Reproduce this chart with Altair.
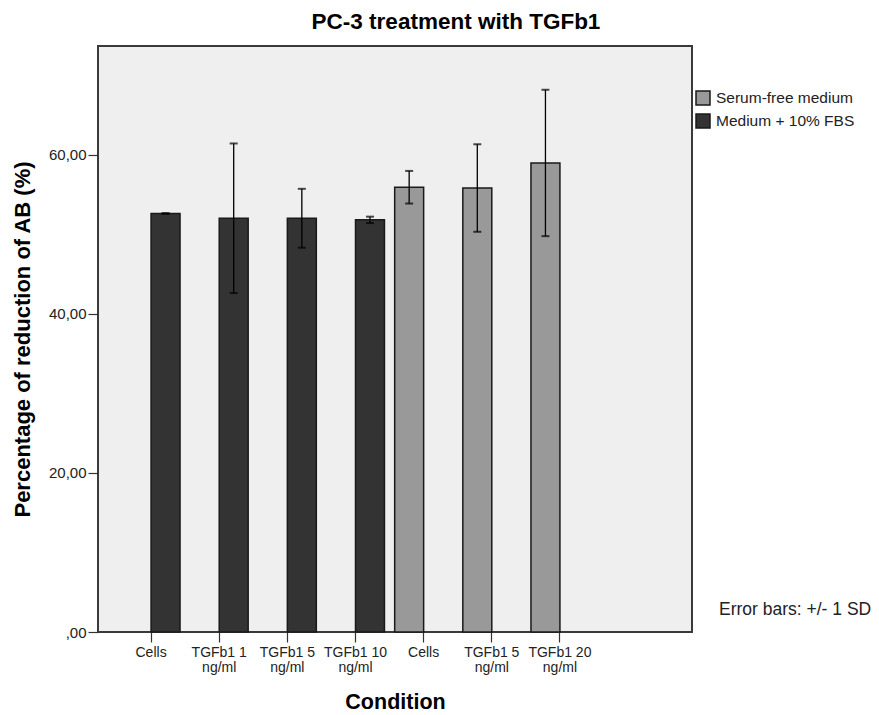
import altair as alt
import pandas as pd

# ---- data ----
categories = ["Cells", "TGFb1 1|ng/ml", "TGFb1 5|ng/ml", "TGFb1 10|ng/ml",
              "Cells ", "TGFb1 5|ng/ml ", "TGFb1 20|ng/ml"]
series = ["Medium + 10% FBS", "Medium + 10% FBS", "Medium + 10% FBS", "Medium + 10% FBS",
          "Serum-free medium", "Serum-free medium", "Serum-free medium"]
means = [52.6, 52.0, 52.0, 51.8, 55.9, 55.8, 58.95]
sds = [0.05, 9.4, 3.7, 0.4, 2.05, 5.5, 9.2]

series_order = ["Serum-free medium", "Medium + 10% FBS"]
series_colors = ["#999999", "#333333"]
y_ticks = [0, 20, 40, 60]
note = ["Error bars: +/- 1 SD"]

df = pd.DataFrame({
    "cond": categories,
    "series": series,
    "mean": means,
    "sd": sds,
})
df["lo"] = df["mean"] - df["sd"]
df["hi"] = df["mean"] + df["sd"]

FONT = "Liberation Sans"
W, H = 594, 586

xscale = alt.Scale(domain=categories, range=[19, 496], paddingInner=0.15, paddingOuter=0.075)
xoff = alt.XOffset("series:N", scale=alt.Scale(domain=series_order, paddingInner=0, paddingOuter=0))
yscale = alt.Scale(domain=[0, 73.65], nice=False, zero=True)

x_enc = alt.X("cond:N", scale=xscale, sort=categories, title="Condition",
              axis=alt.Axis(labelExpr="split(datum.label, '|')", labelAngle=0,
                            labelFontSize=14, labelFont=FONT, labelColor="#222222",
                            labelLineHeight=15, labelPadding=3,
                            tickSize=10, tickColor="#333333", tickWidth=1.2,
                            domain=False, grid=False,
                            titleFont=FONT, titleFontSize=21.5, titleFontWeight="bold",
                            titleX=W / 2, titleAlign="center",
                            titlePadding=17, titleColor="#000000"))
y_enc = alt.Y("mean:Q", scale=yscale, title="Percentage of reduction of AB (%)",
              axis=alt.Axis(values=y_ticks,
                            labelExpr="datum.value == 0 ? ',00' : replace(format(datum.value, '.2f'), '.', ',')",
                            labelFontSize=15, labelFont=FONT, labelColor="#222222",
                            tickSize=10, tickColor="#333333", tickWidth=1.2,
                            labelPadding=2, domain=False, grid=False,
                            titleFont=FONT, titleFontSize=22, titleFontWeight="bold",
                            titlePadding=14, titleColor="#000000"))

bars = alt.Chart(df).mark_bar(stroke="#1a1a1a", strokeWidth=1.5).encode(
    x=x_enc,
    xOffset=xoff,
    y=y_enc,
    color=alt.Color("series:N", scale=alt.Scale(domain=series_order, range=series_colors),
                    legend=alt.Legend(title=None, orient="none", legendX=597, legendY=44,
                                      symbolType="square", symbolSize=196,
                                      symbolStrokeColor="#1a1a1a", symbolStrokeWidth=1.5,
                                      labelFont=FONT, labelFontSize=15.5, labelColor="#222222",
                                      rowPadding=3, padding=0, labelOffset=5)),
)

rules = alt.Chart(df).mark_rule(color="#000000", strokeWidth=1.3).encode(
    x=alt.X("cond:N", scale=xscale, sort=categories),
    xOffset=xoff,
    y=alt.Y("lo:Q", scale=yscale),
    y2="hi:Q",
)
caps_hi = alt.Chart(df).mark_tick(color="#000000", size=8, thickness=2, orient="horizontal").encode(
    x=alt.X("cond:N", scale=xscale, sort=categories),
    xOffset=xoff,
    y=alt.Y("hi:Q", scale=yscale),
)
caps_lo = alt.Chart(df).mark_tick(color="#000000", size=8, thickness=2, orient="horizontal").encode(
    x=alt.X("cond:N", scale=xscale, sort=categories),
    xOffset=xoff,
    y=alt.Y("lo:Q", scale=yscale),
)

note_df = pd.DataFrame({"t": note})
note_text = alt.Chart(note_df).mark_text(align="left", baseline="middle", font=FONT,
                                         fontSize=17.5, color="#222222", clip=False).encode(
    x=alt.value(621), y=alt.value(564), text="t:N")

chart = alt.layer(bars, rules, caps_hi, caps_lo, note_text).properties(
    width=W, height=H,
    title=alt.TitleParams("PC-3 treatment with TGFb1", font=FONT, fontSize=22.5, fontWeight="bold",
                          anchor="middle", dx=61, offset=13, color="#000000"),
    autosize=alt.AutoSizeParams(type="none"),
    padding={"left": 90, "top": 38, "right": 179, "bottom": 83},
).configure_view(
    fill="#EFEFEF", stroke="#3a3a3a", strokeWidth=2,
)

chart.save("out.html", embed_options={"renderer": "svg", "actions": False})
